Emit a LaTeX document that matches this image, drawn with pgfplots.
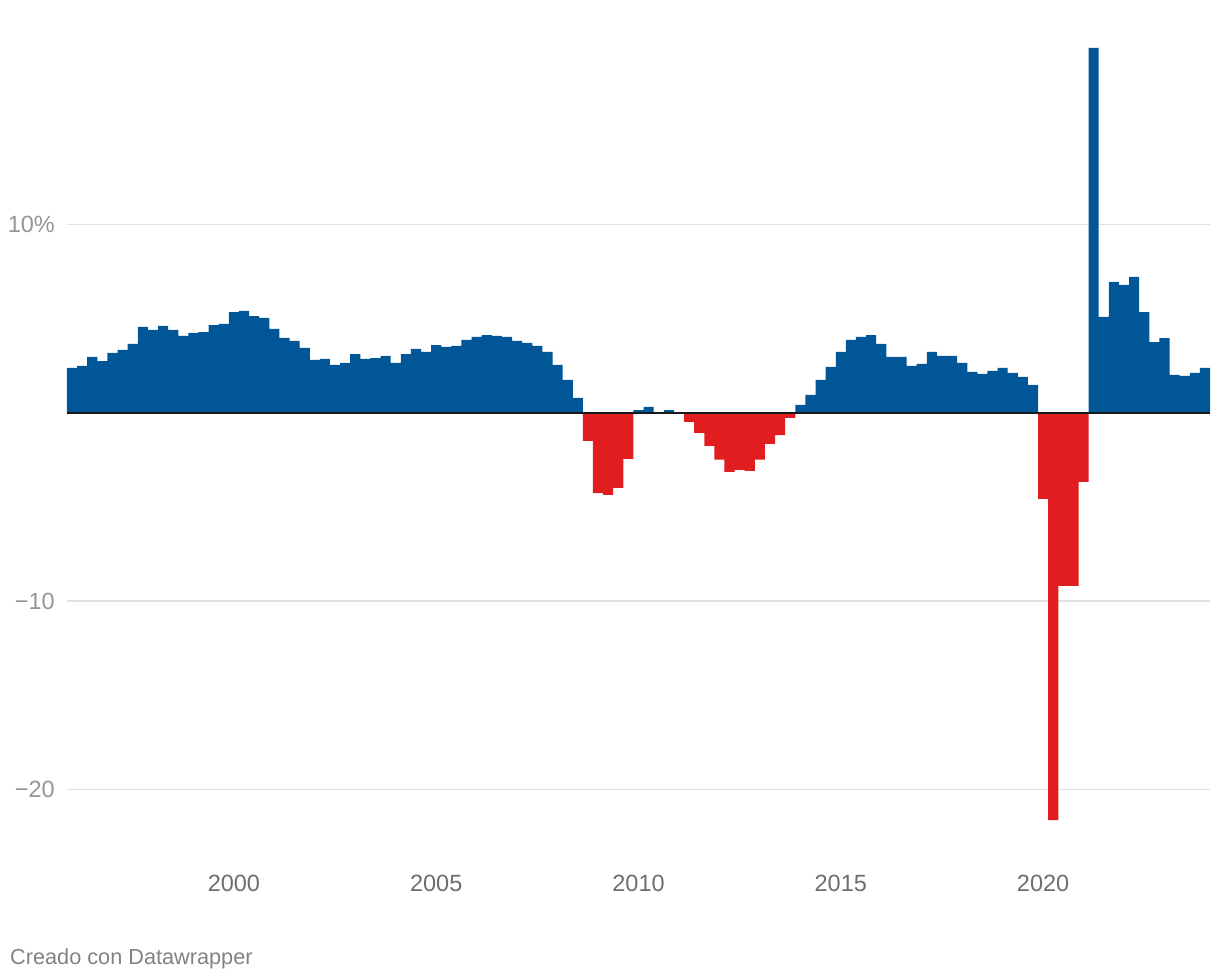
\documentclass[border=0pt]{standalone}
\usepackage{pgfplots}
\pgfplotsset{compat=1.18}
\usepackage{fontspec}
\setmainfont{Liberation Sans}
\usetikzlibrary{calc}
\definecolor{dwblue}{RGB}{0,86,150}
\definecolor{dwred}{RGB}{226,29,31}
\definecolor{gridc}{RGB}{224,224,224}
\definecolor{ylab}{RGB}{150,150,150}
\definecolor{xlab}{RGB}{110,110,110}
\definecolor{foot}{RGB}{130,130,130}
\begin{document}
\begin{tikzpicture}
\begin{axis}[
  name=ax,
  scale only axis,
  width=1143pt, height=810pt,
  xmin=-0.5, xmax=112.5,
  ymin=-23, ymax=20,
  axis line style={draw=none},
  major tick length=0pt,
  xtick={16,36,56,76,96},
  xticklabels={2000,2005,2010,2015,2020},
  ytick={-20,-10,10},
  yticklabels={−20,−10,10\%},
  ymajorgrids,
  grid style={gridc, line width=1.4pt},
  ticklabel style={font=\fontsize{23.5}{28}\selectfont},
  xticklabel style={xlab, anchor=base, yshift=-46pt, inner sep=0pt},
  yticklabel style={ylab, anchor=east, inner sep=0pt, xshift=-12pt},
  ybar, bar width=1, bar shift=0pt,
]
\addplot[fill=dwblue, draw=none] coordinates {
(0,2.37) (1,2.48) (2,2.96) (3,2.74) (4,3.17) (5,3.33) (6,3.65) (7,4.55) (8,4.39) (9,4.60)
(10,4.39) (11,4.07) (12,4.23) (13,4.28) (14,4.65) (15,4.71) (16,5.34) (17,5.40) (18,5.13) (19,5.03)
(20,4.45) (21,3.97) (22,3.81) (23,3.44) (24,2.80) (25,2.85) (26,2.53) (27,2.64) (28,3.11) (29,2.85)
(30,2.90) (31,3.01) (32,2.64) (33,3.11) (34,3.38) (35,3.22) (36,3.59) (37,3.49) (38,3.54) (39,3.86)
(40,4.02) (41,4.12) (42,4.07) (43,4.02) (44,3.81) (45,3.70) (46,3.54) (47,3.22) (48,2.53) (49,1.74)
(50,0.78) (56,0.14) (57,0.30) (59,0.14)
(72,0.41) (73,0.94) (74,1.74) (75,2.43) (76,3.22) (77,3.86) (78,4.02) (79,4.12)
(80,3.65) (81,2.96) (82,2.96) (83,2.48) (84,2.59) (85,3.22) (86,3.01) (87,3.01) (88,2.64) (89,2.17)
(90,2.06) (91,2.22) (92,2.38) (93,2.11) (94,1.90) (95,1.47)
(101,19.36) (102,5.08) (103,6.94) (104,6.78) (105,7.21) (106,5.34) (107,3.75) (108,3.96) (109,2.00)
(110,1.95) (111,2.11) (112,2.38)
};
\addplot[fill=dwred, draw=none] coordinates {
(51,-1.50) (52,-4.27) (53,-4.37) (54,-4.00) (55,-2.46)
(61,-0.49) (62,-1.07) (63,-1.76) (64,-2.50) (65,-3.14) (66,-3.04) (67,-3.09) (68,-2.50) (69,-1.66)
(70,-1.19) (71,-0.28)
(96,-4.58) (97,-21.63) (98,-9.20) (99,-9.20) (100,-3.68)
};
\draw[black!90, line width=2pt] (axis cs:-0.5,0) -- (axis cs:112.5,0);
\end{axis}
\node[anchor=base west, inner sep=0pt, foot, font=\fontsize{21.7}{26}\selectfont]
  at ($(ax.south west)+(-57pt,-119pt)$) {Creado con Datawrapper};
\path[use as bounding box] ($(ax.south west)+(-67pt,-134pt)$) rectangle ($(ax.north east)+(10pt,35.9pt)$);
\end{tikzpicture}
\end{document}
